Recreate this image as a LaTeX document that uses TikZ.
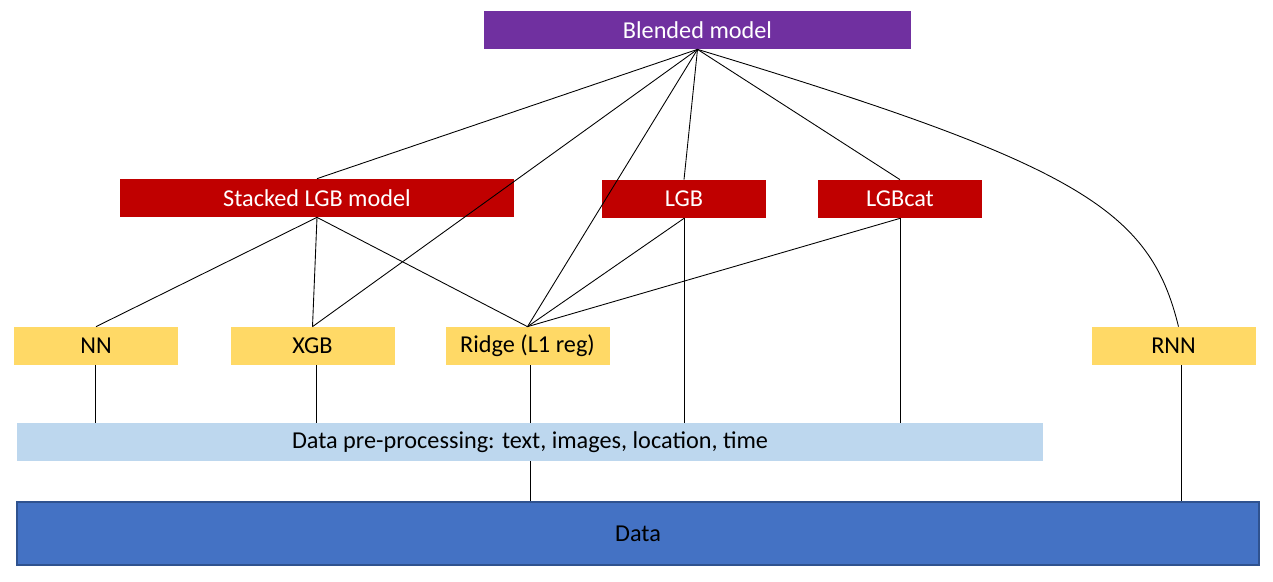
\documentclass[tikz,border=0pt]{standalone}
\usepackage{fontspec}
\setmainfont{Carlito}
\usepackage{tikz}
\usetikzlibrary{calc}
\definecolor{bmpurple}{HTML}{7030A0}
\definecolor{lgbred}{HTML}{C00000}
\definecolor{baseyellow}{HTML}{FFD966}
\definecolor{preblue}{HTML}{BDD7EE}
\definecolor{datablue}{HTML}{4472C4}
\definecolor{dataedge}{HTML}{2F528F}

\begin{document}
\begin{tikzpicture}[every node/.style={font=\fontsize{13.8}{16}\selectfont, inner sep=0pt},
  box/.style={rectangle, minimum height=0.76cm},
  redbox/.style={box, fill=lgbred, text=white},
  yellowbox/.style={box, fill=baseyellow, minimum width=3.28cm},
  link/.style={draw=black, line width=0.5pt}]
\useasboundingbox (0,0) rectangle (25.46,-11.62);

\node (bm) at (13.95,-0.60) [box,fill=bmpurple,text=white,minimum width=8.54cm] {Blended model};

\node (slgb) at (6.34,-3.96) [redbox,minimum width=7.88cm] {Stacked LGB model};
\node (lgb) at (13.68,-3.98) [redbox,minimum width=3.28cm] {LGB};
\node (lgbc) at (18.00,-3.98) [redbox,minimum width=3.28cm] {LGBcat};

\node (nn) at (1.92,-6.92) [yellowbox] {NN};
\node (xgb) at (6.25,-6.92) [yellowbox] {XGB};
\node (ridge) at (10.55,-6.92) [yellowbox] {Ridge (L1 reg)};
\node (rnn) at (23.47,-6.92) [yellowbox] {RNN};

\node (prep) at (10.60,-8.84) [box,fill=preblue,minimum width=20.52cm] {Data pre-processing: text, images, location, time};
\node (data) at (12.76,-10.67) [box,fill=datablue,draw=dataedge,line width=0.6pt,minimum width=24.84cm,minimum height=1.26cm] {Data};

\draw[link] (bm.south) -- (slgb.north);
\draw[link] (bm.south) -- (xgb.north);
\draw[link] (bm.south) -- (ridge.north);
\draw[link] (bm.south) -- (lgb.north);
\draw[link] (bm.south) -- (lgbc.north);
\draw[link] (bm.south) .. controls (21.6,-3.3) and (23.0,-4.2) .. ([xshift=0.1cm]rnn.north);

\draw[link] (slgb.south) -- (nn.north);
\draw[link] (slgb.south) -- (xgb.north);
\draw[link] (slgb.south) -- (ridge.north);
\draw[link] (lgb.south) -- (ridge.north);
\draw[link] (lgbc.south) -- (ridge.north);

\draw[link] (lgb.south) -- (lgb.south |- prep.north);
\draw[link] (lgbc.south) -- (lgbc.south |- prep.north);
\draw[link] ([xshift=-0.02cm]nn.south) -- ([xshift=-0.02cm]nn.south |- prep.north);
\draw[link] ([xshift=0.07cm]xgb.south) -- ([xshift=0.07cm]xgb.south |- prep.north);
\draw[link] ([xshift=0.05cm]ridge.south) -- ([xshift=0.05cm]ridge.south |- prep.north);
\draw[link] ([xshift=0.05cm]ridge.south |- prep.south) -- ([xshift=0.05cm]ridge.south |- data.north);
\draw[link] ([xshift=0.16cm]rnn.south) -- ([xshift=0.16cm]rnn.south |- data.north);
\end{tikzpicture}
\end{document}
